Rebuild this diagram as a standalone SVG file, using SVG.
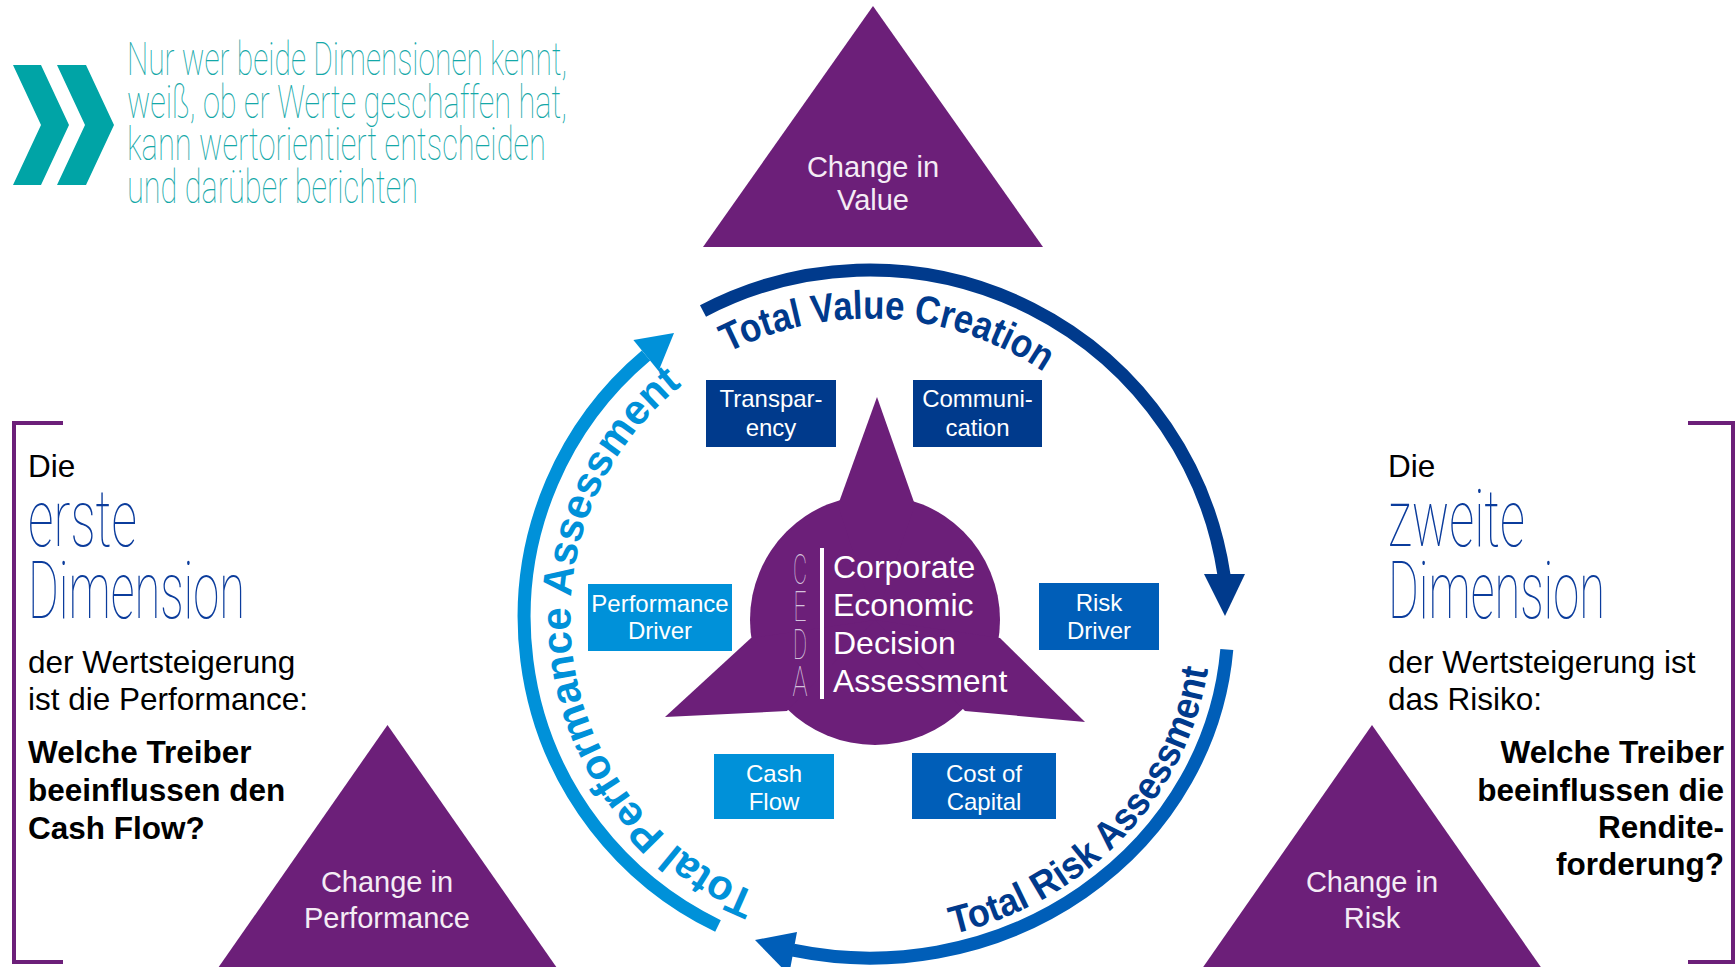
<svg xmlns="http://www.w3.org/2000/svg" width="1736" height="967" viewBox="0 0 1736 967">
<defs>
<style>
.sans{font-family:"Liberation Sans",Arial,sans-serif}
.purple{fill:#6C1F79}
.tri-t{font-family:"Liberation Sans",Arial,sans-serif;font-size:29px;fill:#F4ECF5;text-anchor:middle}
.box-t{font-family:"Liberation Sans",Arial,sans-serif;font-size:24px;fill:#FFFFFF;text-anchor:middle}
.navy{fill:#003A8C}
.lblue{fill:#0091D9}
.mblue{fill:#005EB8}
.body{font-family:"Liberation Sans",Arial,sans-serif;font-size:31.5px;fill:#000000}
.bold{font-weight:bold}
.dim{font-family:Roboto,Lato,"Open Sans",sans-serif;font-weight:100;font-size:80px;fill:#0B3C9C}
.head{font-family:Roboto,Lato,"Open Sans",sans-serif;font-weight:100;font-size:46px;fill:#14A8A8}
.ceda{font-family:Roboto,Lato,"Open Sans",sans-serif;font-weight:100;font-size:42px;fill:#D4C2DC;text-anchor:middle}
.core{font-family:"Liberation Sans",Arial,sans-serif;font-size:32px;fill:#FFFFFF}
.ring{fill:none;stroke-width:13}
.ringtext{font-family:"Liberation Sans",Arial,sans-serif;font-weight:bold;text-anchor:middle}
.bracket{fill:none;stroke:#6C1F79;stroke-width:4}
</style>
<path id="pTop" d="M559.5,604.1 A311,311 0 0 1 1180.2,642.1"/>
<path id="pLeft" d="M904.8,911.9 A297,297 0 0 1 818,324.4"/>
<path id="pRight" d="M650.2,868.7 A342,322 0 0 0 1098.8,382.7"/>
</defs>

<g id="headline">
<path d="M13,65 L41,65 L69,125 L41,185 L13,185 L41,125 Z" fill="#00A4A6"/>
<path d="M57,65 L86,65 L114,125 L86,185 L57,185 L85,125 Z" fill="#00A4A6"/>
<text class="head" x="127" y="75" textLength="440" lengthAdjust="spacingAndGlyphs">Nur wer beide Dimensionen kennt,</text>
<text class="head" x="127" y="118" textLength="440" lengthAdjust="spacingAndGlyphs">weiß, ob er Werte geschaffen hat,</text>
<text class="head" x="127" y="160" textLength="419" lengthAdjust="spacingAndGlyphs">kann wertorientiert entscheiden</text>
<text class="head" x="127" y="203" textLength="291" lengthAdjust="spacingAndGlyphs">und darüber berichten</text>
</g>

<g id="change-in-value">
<polygon class="purple" points="873,6 703,247 1043,247"/>
<text class="tri-t" x="873" y="177">Change in</text>
<text class="tri-t" x="873" y="210">Value</text>
</g>

<g id="change-in-performance">
<polygon class="purple" points="387.5,725 218,968 557,968"/>
<text class="tri-t" x="387" y="892">Change in</text>
<text class="tri-t" x="387" y="928">Performance</text>
</g>

<g id="change-in-risk">
<polygon class="purple" points="1372,725 1202.5,968 1541.5,968"/>
<text class="tri-t" x="1372" y="892">Change in</text>
<text class="tri-t" x="1372" y="928">Risk</text>
</g>

<g id="first-dimension">
<path class="bracket" d="M63,423 H14 V962 H63"/>
<text class="body" x="28" y="477" font-size="30">Die</text>
<text class="dim" x="28" y="546" textLength="109" lengthAdjust="spacingAndGlyphs">erste</text>
<text class="dim" x="28" y="618" textLength="217" lengthAdjust="spacingAndGlyphs">Dimension</text>
<text class="body" x="28" y="673">der Wertsteigerung</text>
<text class="body" x="28" y="710">ist die Performance:</text>
<text class="body bold" x="28" y="763">Welche Treiber</text>
<text class="body bold" x="28" y="801">beeinflussen den</text>
<text class="body bold" x="28" y="839">Cash Flow?</text>
</g>

<g id="second-dimension">
<path class="bracket" d="M1688,423 H1733 V962 H1688"/>
<text class="body" x="1388" y="477" font-size="30">Die</text>
<text class="dim" x="1388" y="546" textLength="137" lengthAdjust="spacingAndGlyphs">zweite</text>
<text class="dim" x="1388" y="618" textLength="217" lengthAdjust="spacingAndGlyphs">Dimension</text>
<text class="body" x="1388" y="673">der Wertsteigerung ist</text>
<text class="body" x="1388" y="710">das Risiko:</text>
<text class="body bold" x="1724" y="763" text-anchor="end">Welche Treiber</text>
<text class="body bold" x="1724" y="801" text-anchor="end">beeinflussen die</text>
<text class="body bold" x="1724" y="838" text-anchor="end">Rendite-</text>
<text class="body bold" x="1724" y="875" text-anchor="end">forderung?</text>
</g>

<g id="connectors">
<g id="total-value-creation">
<path class="ring" stroke="#003A8C" d="M703,311 A358.5,358.5 0 0 1 1224,575"/>
<polygon class="navy" points="1204,574 1245,574 1225,616"/>
<text class="ringtext navy" font-size="40"><textPath href="#pTop" startOffset="50%" textLength="332" lengthAdjust="spacingAndGlyphs">Total Value Creation</textPath></text>
</g>
<g id="total-risk-assessment">
<path class="ring" stroke="#005EB8" d="M1226.8,649.5 A358,336 0 0 1 793,950.2"/>
<polygon class="mblue" points="797,932 789,975 755,940"/>
<text class="ringtext navy" font-size="39"><textPath href="#pRight" startOffset="50%" textLength="390" lengthAdjust="spacingAndGlyphs">Total Risk Assessment</textPath></text>
</g>
<g id="total-performance-assessment">
<path class="ring" stroke="#0091D9" d="M718,926 A342.5,342.5 0 0 1 646,355.5"/>
<polygon class="lblue" points="674,333 658.6,371 633.4,340"/>
<text class="ringtext lblue" font-size="42"><textPath href="#pLeft" startOffset="50%" textLength="620" lengthAdjust="spacingAndGlyphs">Total Performance Assessment</textPath></text>
</g>
</g>

<g id="ceda-core">
<circle class="purple" cx="875" cy="620" r="125"/>
<polygon class="purple" points="838,505 877,397 915,505 875,620"/>
<polygon class="purple" points="751,638 665,717 787,711 875,620"/>
<polygon class="purple" points="1000,638 1085,722 965,711 875,620"/>
<text class="ceda" x="800" y="584" textLength="14" lengthAdjust="spacingAndGlyphs">C</text>
<text class="ceda" x="800" y="621" textLength="13" lengthAdjust="spacingAndGlyphs">E</text>
<text class="ceda" x="800" y="659" textLength="14" lengthAdjust="spacingAndGlyphs">D</text>
<text class="ceda" x="800" y="696" textLength="15" lengthAdjust="spacingAndGlyphs">A</text>
<rect x="820" y="548" width="4" height="151" fill="#FFFFFF"/>
<text class="core" x="833" y="578">Corporate</text>
<text class="core" x="833" y="616">Economic</text>
<text class="core" x="833" y="654">Decision</text>
<text class="core" x="833" y="692">Assessment</text>
</g>

<g id="transparency">
<rect class="navy" x="706" y="380" width="130" height="67"/>
<text class="box-t" x="771" y="407">Transpar-</text>
<text class="box-t" x="771" y="436">ency</text>
</g>
<g id="communication">
<rect class="navy" x="913" y="380" width="129" height="67"/>
<text class="box-t" x="977.5" y="407">Communi-</text>
<text class="box-t" x="977.5" y="436">cation</text>
</g>
<g id="performance-driver">
<rect class="lblue" x="588" y="584" width="144" height="67"/>
<text class="box-t" x="660" y="612">Performance</text>
<text class="box-t" x="660" y="639">Driver</text>
</g>
<g id="risk-driver">
<rect class="mblue" x="1039" y="583" width="120" height="67"/>
<text class="box-t" x="1099" y="611">Risk</text>
<text class="box-t" x="1099" y="639">Driver</text>
</g>
<g id="cash-flow">
<rect class="lblue" x="714" y="754" width="120" height="65"/>
<text class="box-t" x="774" y="782">Cash</text>
<text class="box-t" x="774" y="810">Flow</text>
</g>
<g id="cost-of-capital">
<rect class="mblue" x="912" y="753" width="144" height="66"/>
<text class="box-t" x="984" y="782">Cost of</text>
<text class="box-t" x="984" y="810">Capital</text>
</g>
</svg>
